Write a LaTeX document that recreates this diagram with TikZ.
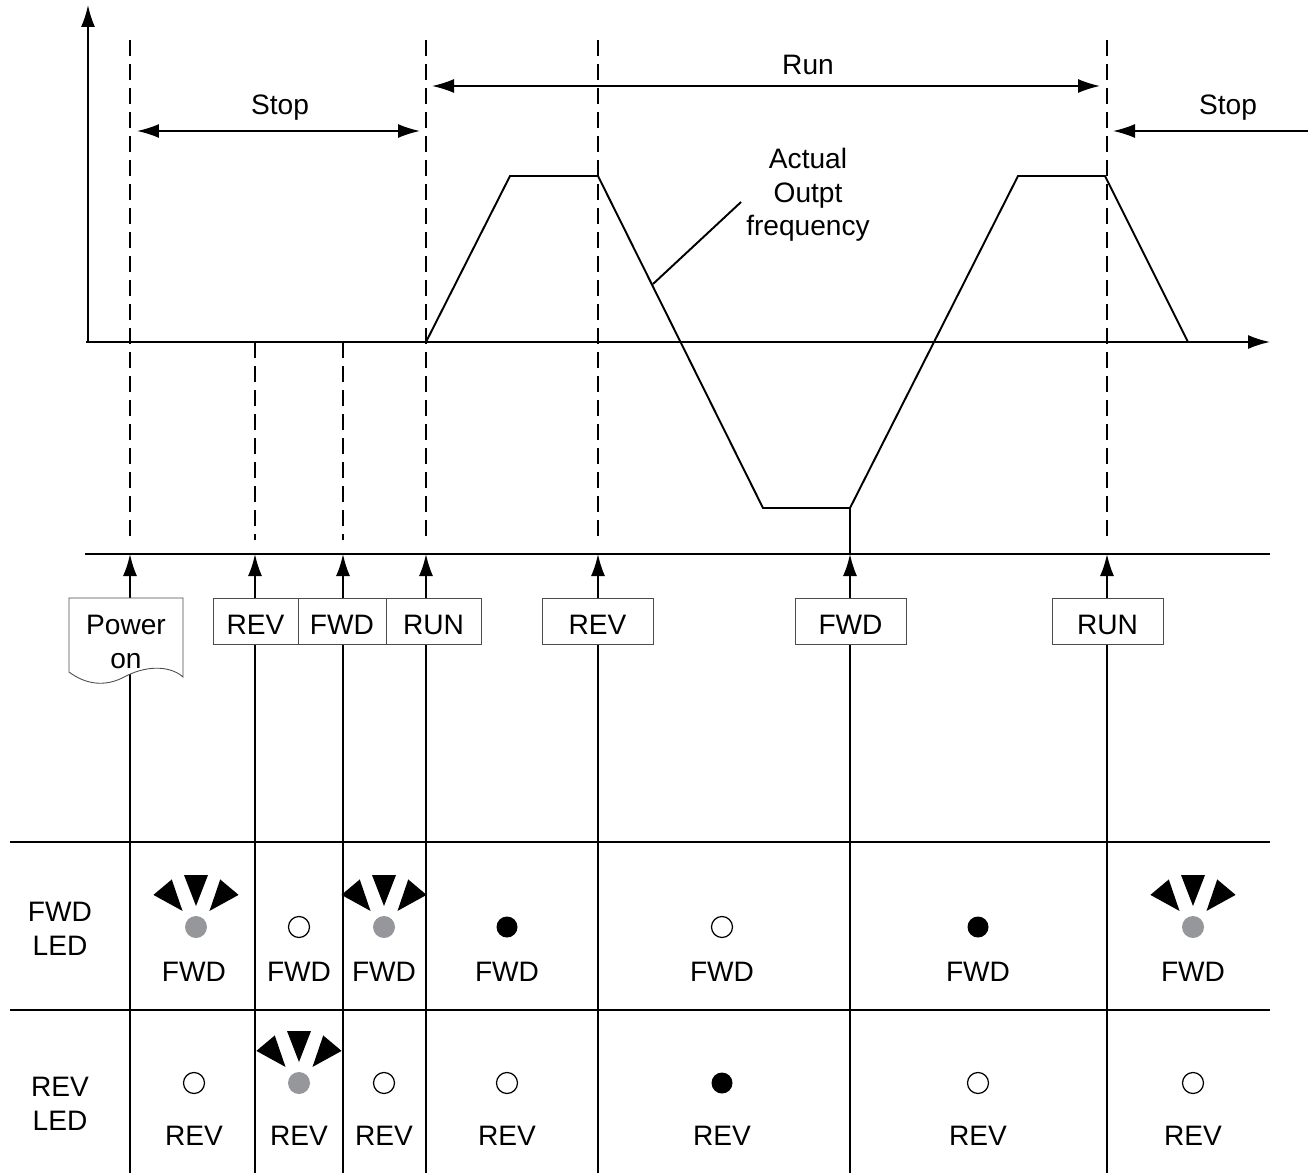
\documentclass[tikz,border=0pt]{standalone}
\usepackage{fontspec}
\setmainfont{Liberation Sans}
\usepackage{tikz}
\usetikzlibrary{arrows.meta,positioning,calc}
\definecolor{ledgray}{RGB}{150,151,155}

\begin{document}
\begin{tikzpicture}[
  x=0.02cm,y=-0.02cm,>={Latex[length=4.4mm,width=2.8mm]},
  axis/.style={->,line width=1.1pt},
  span/.style={<->,line width=0.9pt},
  guide/.style={line width=1pt,dash pattern=on 0.32cm off 0.16cm},
  signal/.style={->,line width=1.1pt},
  rule/.style={line width=1.1pt},
  wave/.style={line width=1.1pt,line join=miter},
  keybox/.style={draw=black!70,line width=0.5pt,fill=white,
    minimum height=0.92cm,inner sep=0pt,outer sep=0pt,
    text height=0.52cm,text depth=0cm},
  offled/.pic={\node[circle,draw,line width=0.7pt,minimum size=0.42cm,
    inner sep=0pt] (-led) {};},
  onled/.pic={\node[circle,fill=black,minimum size=0.42cm,
    inner sep=0pt] (-led) {};},
  blinkled/.pic={\node[circle,fill=ledgray,minimum size=0.44cm,
    inner sep=0pt] (-led) {};
    \foreach \a in {50,90,130}
      \fill[rotate=\a] (0.42cm,0) -- (1.04cm,0.24cm)
        -- (1.04cm,-0.24cm) -- cycle;},
  every node/.style={font=\fontsize{16}{19}\selectfont}
]
  \useasboundingbox (0,0) rectangle (1308,1173);

  % axes and time marks
  \coordinate (origin) at (86,342);
  \coordinate (ytip) at (88,5);
  \coordinate (xtip) at (1270,342);
  \draw[axis] (88,342) -- (ytip);
  \draw[axis] (origin) -- (xtip);
  \foreach \gx in {130,426,598,1107}
    \draw[guide] (\gx,40) -- (\gx,540);
  \foreach \gx in {255,343}
    \draw[guide] (\gx,342) -- (\gx,540);

  % run / stop spans
  \coordinate (stopA) at (137,131);
  \coordinate (stopB) at (420,131);
  \coordinate (runA) at (432,86);
  \coordinate (runB) at (1100,86);
  \coordinate (stopC) at (1308,131);
  \coordinate (stopD) at (1113,131);
  \draw[span] (stopA) -- (stopB);
  \draw[span] (runA) -- (runB);
  \draw[->,line width=0.9pt] (stopC) -- (stopD);
  \node (stop1) at (280,108) {Stop};
  \node (run) at (808,65) {Run};
  \node (stop2) at (1228,108) {Stop};

  % output frequency
  \draw[wave] (426,342) -- (510,176) -- (598,176) -- (763,508)
    -- (850,508) -- (1018,176) -- (1105,176) -- (1188,342);
  \node[align=center] (actual) at (808,195)
    {Actual\\Outpt\\frequency};
  \coordinate (onwave) at (653,284);
  \draw[rule] ($(actual.west)+(1,7)$) -- (onwave);

  % key inputs
  \coordinate (busL) at (85,554);
  \coordinate (busR) at (1270,554);
  \draw[rule] (busL) -- (busR);
  \draw[rule] (850,508) -- (850,554);
  \foreach \cx [count=\i] in {130,255,343,426,598,850,1107}{
    \coordinate (bus\i) at (\cx,554);
    \coordinate (foot\i) at (\cx,1173);
    \draw[signal] (foot\i) -- (bus\i);
  }
  \draw[draw=black!70,line width=0.5pt,fill=white]
    (69,598) -- (183,598) -- (183,677)
    .. controls (172,667) and (150,664) .. (126,676)
    .. controls (105,688) and (85,684) .. (69,672) -- cycle;
  \node[align=center] (power) at (126,642) {Power\\on};
  \node[keybox,minimum width=1.7cm] (rev1) at (255.5,621) {REV};
  \node[keybox,minimum width=1.76cm,right=0pt of rev1] (fwd1) {FWD};
  \node[keybox,minimum width=1.9cm,right=0pt of fwd1] (run1) {RUN};
  \node[keybox,minimum width=2.22cm] (rev2) at (597.5,621) {REV};
  \node[keybox,minimum width=2.22cm] (fwd2) at (850.5,621) {FWD};
  \node[keybox,minimum width=2.22cm] (run2) at (1107.5,621) {RUN};

  % LED table
  \draw[rule] (10,842) -- (1270,842);
  \draw[rule] (10,1010) -- (1270,1010);
  \node[align=center] (fwdrow) at (60,929) {FWD\\LED};
  \node[align=center] (revrow) at (60,1104) {REV\\LED};
  \foreach \cx [count=\i] in {194,299,384,507,722,978,1193}{
    \node (fname\i) at (\cx,972) {FWD};
    \node (rname\i) at (\cx,1136) {REV};
  }
  \foreach \cx/\cy [count=\i] in {196/927,384/927,1193/927,299/1083}
    \pic (blink\i) at (\cx,\cy) {blinkled};
  \foreach \cx/\cy [count=\i] in {299/927,722/927,194/1083,
      384/1083,507/1083,978/1083,1193/1083}
    \pic (off\i) at (\cx,\cy) {offled};
  \foreach \cx/\cy [count=\i] in {507/927,978/927,722/1083}
    \pic (on\i) at (\cx,\cy) {onled};
\end{tikzpicture}
\end{document}
